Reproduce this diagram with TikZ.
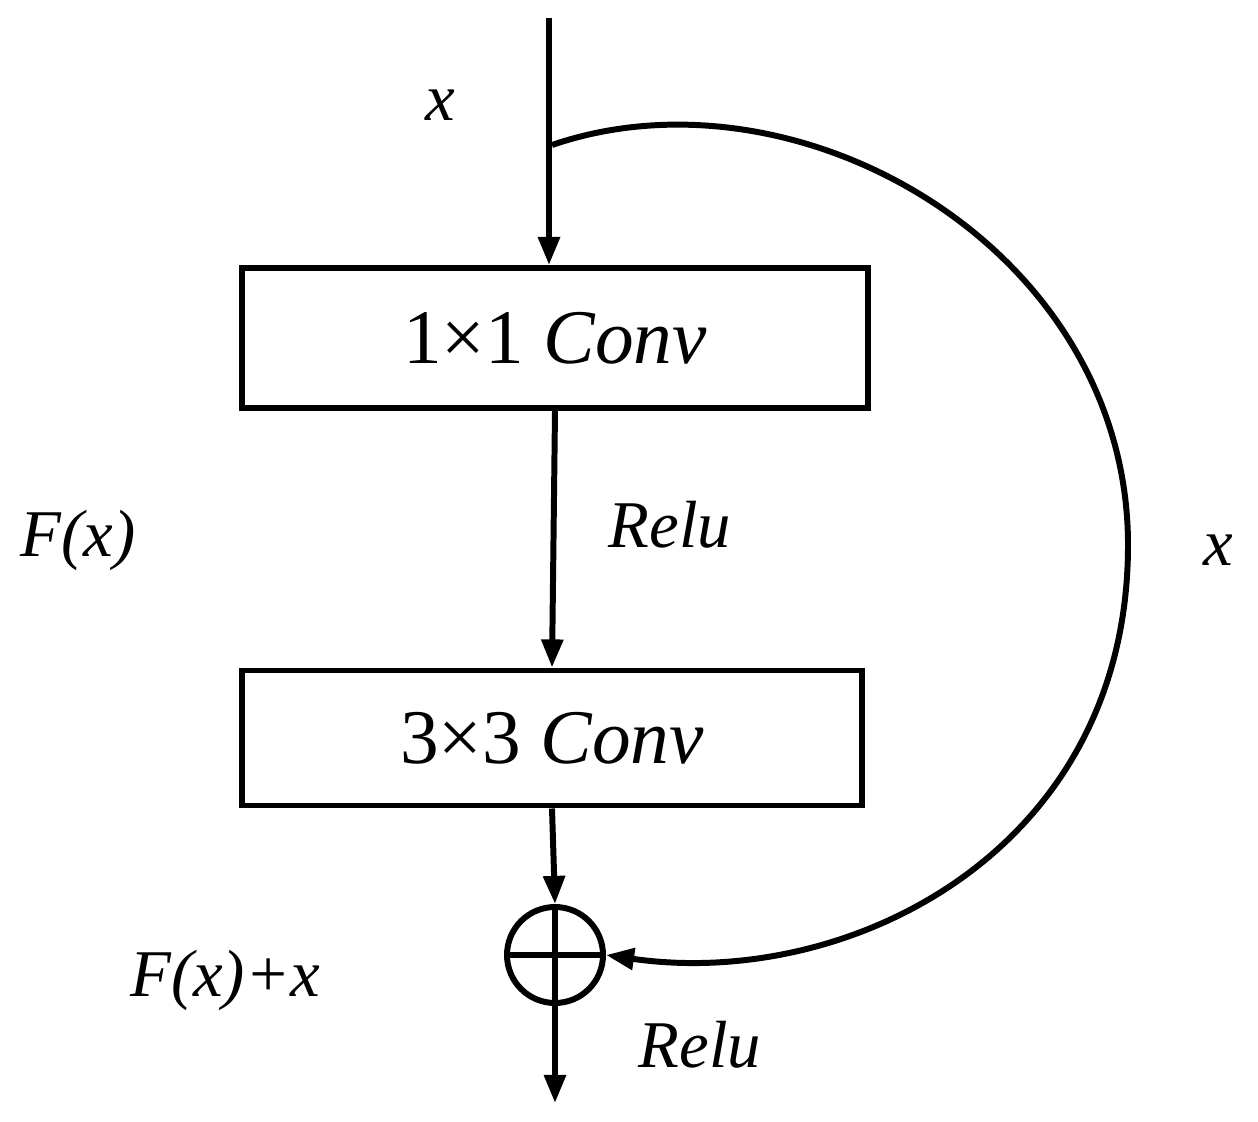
\documentclass[tikz,border=0pt]{standalone}
\usepackage{fontspec}
\setmainfont{Liberation Serif}
\usetikzlibrary{arrows.meta}
\begin{document}
\begin{tikzpicture}[x=0.02cm,y=-0.02cm,line width=3.4pt,
  conn/.style={-{Triangle[length=16pt,width=12pt]}},
  blk/.style={draw,minimum width=0,inner sep=0},
  lbl/.style={font=\fontsize{38}{40}\selectfont\itshape},
  btxt/.style={font=\fontsize{44}{46}\selectfont}]
\useasboundingbox (0,0) rectangle (1258,1122);
\coordinate (top) at (549,18);
\coordinate (split) at (552,145);
\node[draw,minimum width=626*0.02cm,minimum height=140*0.02cm,btxt] (b1) at (555,338) {1×1 \textit{Conv}};
\node[draw,minimum width=620*0.02cm,minimum height=135*0.02cm,btxt] (b2) at (552,738) {3×3 \textit{Conv}};
\node[draw,circle,minimum size=96*0.02cm,inner sep=0] (add) at (555,955) {};
\draw (add.north) -- (add.south) (add.west) -- (add.east);
\coordinate (out) at (555,1103);
\draw[conn] (top) -- (b1.north -| top);
\draw[conn] (b1.south) -- (b2.north);
\draw[conn] (b2.south) -- (add.north);
\draw[conn] (add.south) -- (out);
\draw[conn] (split) .. controls (800,60) and (1128,250) .. (1128,545) .. controls (1128,850) and (850,990) .. (add.east);
\node[lbl] (l1) at (440,105) {x};
\node[lbl] (l2) at (670,525) {Relu};
\node[lbl] (l3) at (78,540) {F(x)};
\node[lbl] (l4) at (1218,550) {x};
\node[lbl] (l5) at (225,980) {F(x)+x};
\node[lbl] (l6) at (700,1045) {Relu};
\end{tikzpicture}
\end{document}
